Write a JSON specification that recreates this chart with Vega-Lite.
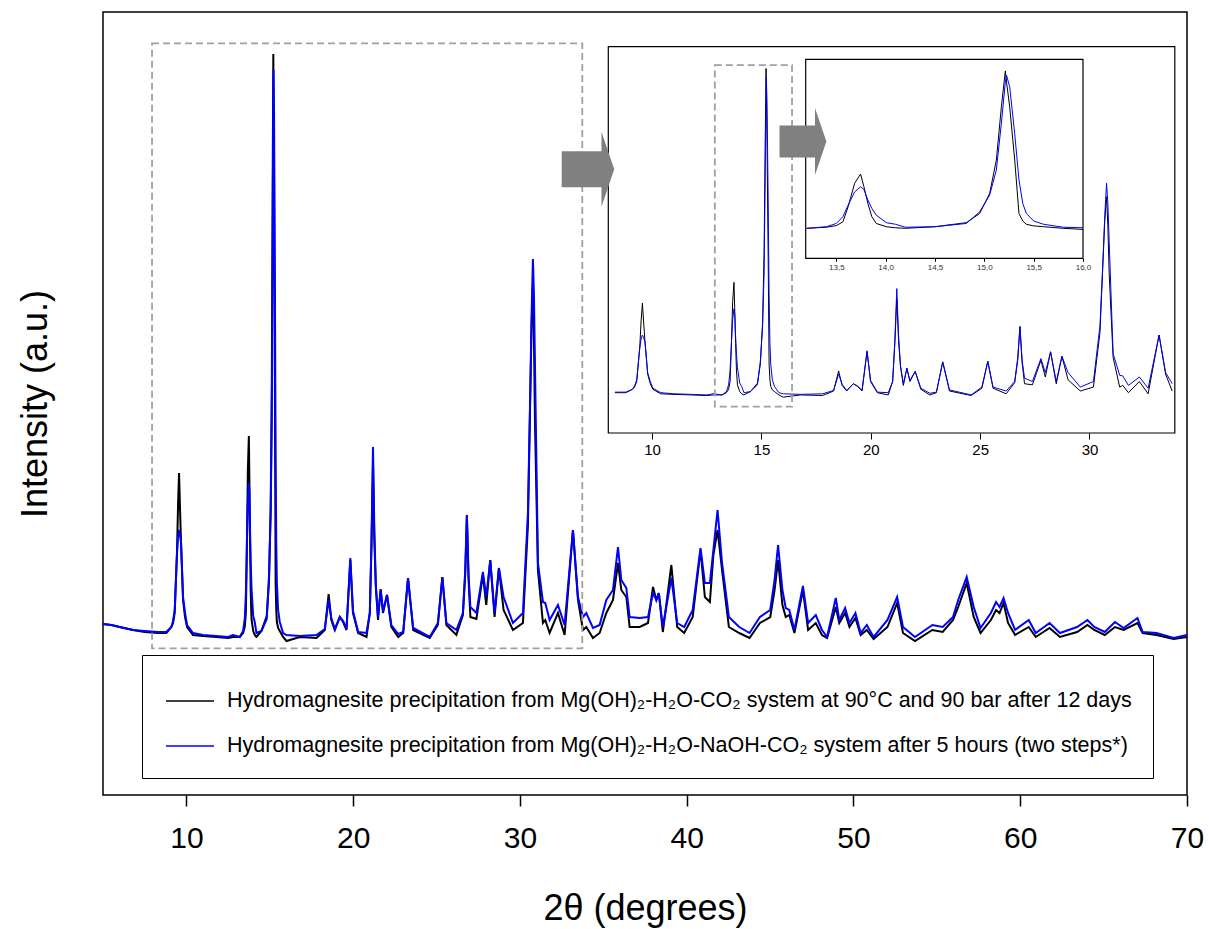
{
"$schema": "https://vega.github.io/schema/vega-lite/v6.json",
"width": 1084, "height": 783,
"autosize": "none",
"padding": {"left": 103, "top": 12, "right": 22, "bottom": 134},
"background": "white",
"config": {"view": {"stroke": "black", "strokeWidth": 1.5}, "font": "Liberation Sans", "axis": {"grid": false}},
"datasets": {
"xrd": [
{"x":5.0,"k":171,"b":171},{"x":5.5,"k":170,"b":170},{"x":6.0,"k":168,"b":168},{"x":6.8,"k":165,"b":165},{"x":7.5,"k":163,"b":164},{"x":8.3,"k":162,"b":163},{"x":8.8,"k":162,"b":163},{"x":9.1,"k":168,"b":168},{"x":9.2,"k":172,"b":174},{"x":9.3,"k":182,"b":185},{"x":9.44,"k":245,"b":242},{"x":9.5,"k":290,"b":258},{"x":9.56,"k":322,"b":265},{"x":9.62,"k":285,"b":260},{"x":9.68,"k":252,"b":252},{"x":9.8,"k":195,"b":198},{"x":9.92,"k":178,"b":182},{"x":10.04,"k":168,"b":170},{"x":10.4,"k":160,"b":162},{"x":11.0,"k":159,"b":160},{"x":11.8,"k":158,"b":159},{"x":12.5,"k":157,"b":158},{"x":12.8,"k":158,"b":160},
{"x":13.2,"k":158,"b":158},{"x":13.4,"k":162,"b":164},{"x":13.5,"k":168,"b":176},{"x":13.567,"k":182,"b":201},{"x":13.62,"k":238,"b":244},{"x":13.686,"k":325,"b":293},{"x":13.746,"k":359,"b":312},{"x":13.78,"k":312,"b":302},{"x":13.82,"k":250,"b":263},{"x":13.86,"k":201,"b":232},{"x":13.905,"k":176,"b":207},{"x":14.007,"k":164,"b":179},{"x":14.1,"k":160,"b":173},{"x":14.2,"k":158,"b":162},{"x":14.5,"k":164,"b":164},{"x":14.818,"k":179,"b":176},{"x":14.953,"k":213,"b":219},{"x":15.054,"k":287,"b":281},{"x":15.122,"k":411,"b":374},{"x":15.173,"k":608,"b":547},{"x":15.213,"k":741,"b":700},{"x":15.225,"k":700,"b":725},{"x":15.257,"k":608,"b":682},{"x":15.308,"k":411,"b":509},{"x":15.351,"k":213,"b":337},{"x":15.39,"k":185,"b":250},{"x":15.426,"k":173,"b":213},{"x":15.5,"k":167,"b":185},{"x":15.6,"k":164,"b":173},{"x":15.8,"k":158,"b":162},{"x":16.0,"k":154,"b":160},
{"x":16.8,"k":158,"b":159},{"x":17.8,"k":157,"b":160},{"x":18.3,"k":165,"b":166},{"x":18.53,"k":201,"b":195},{"x":18.69,"k":175,"b":177},{"x":18.9,"k":165,"b":166},{"x":19.2,"k":178,"b":178},{"x":19.4,"k":173,"b":174},{"x":19.6,"k":165,"b":166},{"x":19.83,"k":235,"b":237},{"x":19.99,"k":182,"b":184},{"x":20.3,"k":162,"b":163},{"x":20.8,"k":158,"b":162},{"x":21.0,"k":182,"b":182},{"x":21.1,"k":250,"b":255},{"x":21.19,"k":330,"b":348},{"x":21.27,"k":255,"b":265},{"x":21.36,"k":208,"b":210},{"x":21.49,"k":175,"b":178},{"x":21.65,"k":206,"b":205},{"x":21.79,"k":182,"b":184},{"x":22.03,"k":200,"b":200},{"x":22.29,"k":168,"b":170},{"x":22.7,"k":158,"b":161},{"x":23.0,"k":162,"b":163},{"x":23.29,"k":217,"b":217},{"x":23.6,"k":165,"b":167},{"x":24.59,"k":157,"b":158},{"x":25.08,"k":170,"b":172},{"x":25.35,"k":218,"b":218},{"x":25.59,"k":170,"b":172},{"x":26.19,"k":160,"b":165},{"x":26.58,"k":180,"b":182},{"x":26.72,"k":220,"b":225},{"x":26.82,"k":280,"b":280},{"x":26.92,"k":215,"b":220},{"x":27.03,"k":178,"b":188},{"x":27.39,"k":176,"b":182},{"x":27.78,"k":220,"b":223},{"x":27.98,"k":190,"b":198},{"x":28.22,"k":235,"b":235},{"x":28.48,"k":178,"b":182},{"x":28.74,"k":227,"b":227},{"x":29.02,"k":185,"b":198},{"x":29.58,"k":165,"b":172},{"x":30.18,"k":172,"b":182},{"x":30.48,"k":270,"b":282},{"x":30.6,"k":380,"b":385},{"x":30.7,"k":470,"b":480},{"x":30.78,"k":512,"b":536},{"x":30.84,"k":460,"b":500},{"x":30.9,"k":375,"b":432},{"x":31.08,"k":225,"b":232},{"x":31.38,"k":172,"b":193},{"x":31.52,"k":175,"b":192},{"x":31.78,"k":162,"b":175},{"x":32.28,"k":182,"b":190},{"x":32.68,"k":160,"b":170},{"x":33.18,"k":265,"b":265},{"x":33.48,"k":195,"b":198},{"x":33.78,"k":165,"b":178},{"x":33.98,"k":168,"b":182},
{"x":34.38,"k":157,"b":167},{"x":34.78,"k":162,"b":170},{"x":35.18,"k":182,"b":195},{"x":35.58,"k":195,"b":205},{"x":35.88,"k":232,"b":248},{"x":36.08,"k":205,"b":215},{"x":36.38,"k":198,"b":207},{"x":36.58,"k":168,"b":178},{"x":37.18,"k":168,"b":177},{"x":37.68,"k":172,"b":178},{"x":37.98,"k":208,"b":202},{"x":38.18,"k":195,"b":195},{"x":38.33,"k":202,"b":202},{"x":38.57,"k":163,"b":168},{"x":39.08,"k":230,"b":217},{"x":39.43,"k":168,"b":172},{"x":39.85,"k":162,"b":168},{"x":40.36,"k":178,"b":185},{"x":40.83,"k":245,"b":247},{"x":41.09,"k":198,"b":212},{"x":41.39,"k":193,"b":212},{"x":41.6,"k":240,"b":245},{"x":41.85,"k":265,"b":285},{"x":42.12,"k":225,"b":232},{"x":42.53,"k":168,"b":178},{"x":43.15,"k":162,"b":168},{"x":43.77,"k":157,"b":162},{"x":44.39,"k":172,"b":178},{"x":45.01,"k":178,"b":185},{"x":45.27,"k":205,"b":215},{"x":45.48,"k":235,"b":250},{"x":45.74,"k":190,"b":205},{"x":45.94,"k":178,"b":187},{"x":46.15,"k":180,"b":185},{"x":46.46,"k":162,"b":165},{"x":46.97,"k":205,"b":209},{"x":47.28,"k":165,"b":172},{"x":47.74,"k":172,"b":180},{"x":48.11,"k":160,"b":165},{"x":48.42,"k":157,"b":158},{"x":48.94,"k":188,"b":197},{"x":49.15,"k":172,"b":175},{"x":49.5,"k":182,"b":187},{"x":49.76,"k":168,"b":172},{"x":50.12,"k":177,"b":182},{"x":50.43,"k":160,"b":162},{"x":50.8,"k":165,"b":170},{"x":51.21,"k":156,"b":158},{"x":52.04,"k":168,"b":175},{"x":52.62,"k":192,"b":198},{"x":52.97,"k":162,"b":168},{"x":53.69,"k":154,"b":158},{"x":54.73,"k":165,"b":170},{"x":55.35,"k":163,"b":168},{"x":55.97,"k":175,"b":178},{"x":56.28,"k":188,"b":195},{"x":56.79,"k":212,"b":218},{"x":57.21,"k":178,"b":188},{"x":57.62,"k":162,"b":167},{"x":58.24,"k":175,"b":182},{"x":58.55,"k":185,"b":193},{"x":58.76,"k":182,"b":188},{"x":59.0,"k":192,"b":197},{"x":59.27,"k":172,"b":182},{"x":59.69,"k":160,"b":165},{"x":60.51,"k":168,"b":175},{"x":60.93,"k":158,"b":162},{"x":61.76,"k":167,"b":172},{"x":62.38,"k":158,"b":162},{"x":63.41,"k":163,"b":168},{"x":64.03,"k":170,"b":175},{"x":64.44,"k":165,"b":168},{"x":65.07,"k":160,"b":163},{"x":65.68,"k":168,"b":173},{"x":66.2,"k":165,"b":167},{"x":67.03,"k":172,"b":177},{"x":67.34,"k":162,"b":163},{"x":68.17,"k":160,"b":162},{"x":69.2,"k":156,"b":157},{"x":70.0,"k":158,"b":160}
]
},
"resolve": {"scale": {"x": "independent", "y": "independent"}, "axis": {"x": "independent", "y": "independent"}},
"layer": [
{
"data": {"name": "xrd"},
"layer": [
{"mark": {"type": "line", "strokeWidth": 2},
 "encoding": {
  "x": {"field": "x", "type": "quantitative", "scale": {"domain": [5, 70], "nice": false, "zero": false},
        "axis": {"orient": "bottom", "values": [10, 20, 30, 40, 50, 60, 70], "tickSize": 11, "tickWidth": 1.5, "tickColor": "black", "labelFontSize": 30, "labelColor": "black", "labelPadding": 17, "labelFlush": false, "labelOverlap": false, "domain": false, "title": "2θ (degrees)", "titleFontSize": 36, "titleFontWeight": "normal", "titleColor": "black", "titlePadding": 38}},
  "y": {"field": "k", "type": "quantitative", "scale": {"domain": [0, 783], "nice": false, "zero": false},
        "axis": {"orient": "left", "title": "Intensity (a.u.)", "labels": false, "ticks": false, "domain": false, "titleFontSize": 36, "titleFontWeight": "normal", "titleColor": "black", "titlePadding": 49}},
  "color": {"datum": "Hydromagnesite precipitation from Mg(OH)₂-H₂O-CO₂ system at 90°C and 90 bar after 12 days",
            "scale": {"domain": ["Hydromagnesite precipitation from Mg(OH)₂-H₂O-CO₂ system at 90°C and 90 bar after 12 days", "Hydromagnesite precipitation from Mg(OH)₂-H₂O-NaOH-CO₂ system after 5 hours (two steps*)"], "range": ["black", "#0000ff"]},
            "legend": {"orient": "none", "legendX": 39, "legendY": 643, "title": null, "symbolType": "stroke", "symbolSize": 2304, "symbolStrokeWidth": 1.5, "labelFontSize": 21.5, "labelFont": "Liberation Sans", "labelLimit": 1100, "labelColor": "black", "padding": 21, "rowPadding": 9, "strokeColor": "black", "fillColor": "white", "symbolOffset": 2, "labelOffset": 12}}
 }},
{"mark": {"type": "line", "strokeWidth": 2},
 "encoding": {
  "x": {"field": "x", "type": "quantitative"},
  "y": {"field": "b", "type": "quantitative"},
  "color": {"datum": "Hydromagnesite precipitation from Mg(OH)₂-H₂O-NaOH-CO₂ system after 5 hours (two steps*)"}
 }},
{"data": {"values": [{"x1": 7.94, "x2": 33.74, "y1": 146.7, "y2": 751.7}]},
 "mark": {"type": "rect", "fill": null, "fillOpacity": 0, "stroke": "#a0a0a0", "strokeWidth": 1.8, "strokeDash": [7, 4]},
 "encoding": {"x": {"field": "x1", "type": "quantitative"}, "x2": {"field": "x2"}, "y": {"field": "y1", "type": "quantitative"}, "y2": {"field": "y2"}}}
]
},
{
"layer": [
{"data": {"values": [{"x1": 8, "x2": 33.9, "y1": 90, "y2": 780}]},
 "mark": {"type": "rect", "fill": "white", "stroke": "black", "strokeWidth": 1.2},
 "encoding": {
  "x": {"field": "x1", "type": "quantitative", "scale": {"domain": [8, 33.9], "range": [505.3, 1071.8], "nice": false, "zero": false},
        "axis": {"orient": "bottom", "offset": -362, "zindex": 1, "values": [10, 15, 20, 25, 30], "tickSize": 6, "tickColor": "black", "labelFontSize": 15, "labelColor": "black", "labelPadding": 3, "labelFlush": false, "domain": false, "title": null}},
  "x2": {"field": "x2"},
  "y": {"field": "y1", "type": "quantitative", "scale": {"domain": [90, 780], "range": [421, 34.7], "nice": false, "zero": false}, "axis": null},
  "y2": {"field": "y2"}
 }},
{"data": {"name": "xrd"}, "transform": [{"filter": "datum.x >= 8 && datum.x <= 33.9"}],
 "mark": {"type": "line", "stroke": "black", "strokeWidth": 1},
 "encoding": {"x": {"field": "x", "type": "quantitative"}, "y": {"field": "k", "type": "quantitative"}}},
{"data": {"name": "xrd"}, "transform": [{"filter": "datum.x >= 8 && datum.x <= 33.9"}],
 "mark": {"type": "line", "stroke": "#0000ff", "strokeWidth": 1},
 "encoding": {"x": {"field": "x", "type": "quantitative"}, "y": {"field": "b", "type": "quantitative"}}},
{"data": {"values": [{"x1": 12.87, "x2": 16.4, "y1": 137, "y2": 747}]},
 "mark": {"type": "rect", "fill": null, "fillOpacity": 0, "stroke": "#a0a0a0", "strokeWidth": 1.8, "strokeDash": [7, 4]},
 "encoding": {"x": {"field": "x1", "type": "quantitative"}, "x2": {"field": "x2"}, "y": {"field": "y1", "type": "quantitative"}, "y2": {"field": "y2"}}}
]
},
{
"layer": [
{"data": {"values": [{"x1": 13.19, "x2": 16.0, "y1": 47, "y2": 784}]},
 "mark": {"type": "rect", "fill": "white", "stroke": "black", "strokeWidth": 1.2},
 "encoding": {
  "x": {"field": "x1", "type": "quantitative", "scale": {"domain": [13.19, 16.0], "range": [702.7, 980], "nice": false, "zero": false},
        "axis": {"orient": "bottom", "offset": -536.7, "zindex": 2, "values": [13.5, 14, 14.5, 15, 15.5, 16], "labelExpr": "replace(format(datum.value, '.1f'), '.', ',')", "tickSize": 3, "tickColor": "black", "labelFontSize": 8, "labelColor": "#333", "labelPadding": 2, "labelFlush": false, "domain": false, "title": null}},
  "x2": {"field": "x2"},
  "y": {"field": "y1", "type": "quantitative", "scale": {"domain": [47, 784], "range": [246.3, 47.3], "nice": false, "zero": false}, "axis": null},
  "y2": {"field": "y2"}
 }},
{"data": {"name": "xrd"}, "transform": [{"filter": "datum.x >= 13.19 && datum.x <= 16.0"}],
 "mark": {"type": "line", "stroke": "black", "strokeWidth": 1},
 "encoding": {"x": {"field": "x", "type": "quantitative"}, "y": {"field": "k", "type": "quantitative"}}},
{"data": {"name": "xrd"}, "transform": [{"filter": "datum.x >= 13.19 && datum.x <= 16.0"}],
 "mark": {"type": "line", "stroke": "#0000ff", "strokeWidth": 1},
 "encoding": {"x": {"field": "x", "type": "quantitative"}, "y": {"field": "b", "type": "quantitative"}}}
]
},
{
"data": {"values": [{"x": 34.08, "y": 625.7, "id": "a"}, {"x": 46.97, "y": 653.5, "id": "b"}]},
"mark": {"type": "point", "shape": "M-0.7,-0.48L0.36,-0.48L0.36,-1L0.7,0L0.36,1L0.36,0.48L-0.7,0.48Z", "filled": true, "fill": "#808080", "opacity": 1, "strokeWidth": 0},
"encoding": {
 "x": {"field": "x", "type": "quantitative", "scale": {"domain": [5, 70], "nice": false, "zero": false}, "axis": null},
 "y": {"field": "y", "type": "quantitative", "scale": {"domain": [0, 783], "nice": false, "zero": false}, "axis": null},
 "size": {"field": "id", "type": "nominal", "scale": {"domain": ["a", "b"], "range": [5625, 4489]}, "legend": null}
}
}
]
}
